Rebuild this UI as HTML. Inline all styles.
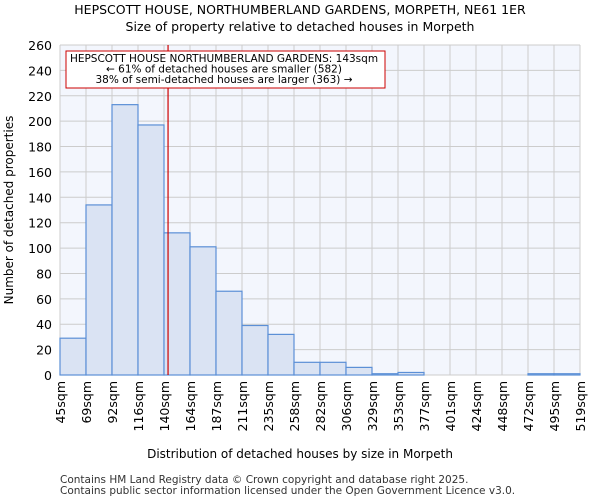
<!DOCTYPE html>
<html><head><meta charset="utf-8"><style>
body{margin:0;background:#fff;font-family:"DejaVu Sans","Liberation Sans",sans-serif;}
</style></head><body>
<svg width="600" height="500" xmlns="http://www.w3.org/2000/svg" font-family="DejaVu Sans, Liberation Sans, sans-serif">
<text x="300" y="14" text-anchor="middle" font-size="12.5">HEPSCOTT HOUSE, NORTHUMBERLAND GARDENS, MORPETH, NE61 1ER</text>
<text x="300" y="31" text-anchor="middle" font-size="12.5">Size of property relative to detached houses in Morpeth</text>
<rect x="60" y="45" width="520" height="330" fill="#f3f6fd"/>
<g id="grid"></g><g id="bars"></g><g id="axes"></g>
<text x="300" y="458" text-anchor="middle" font-size="12">Distribution of detached houses by size in Morpeth</text>
<text transform="translate(13,210) rotate(-90)" text-anchor="middle" font-size="12">Number of detached properties</text>
<text x="60" y="483" font-size="10.5" fill="#333">Contains HM Land Registry data © Crown copyright and database right 2025.</text>
<text x="60" y="494" font-size="10.5" fill="#333">Contains public sector information licensed under the Open Government Licence v3.0.</text>
</svg>
<script>
const categories=["45sqm","69sqm","92sqm","116sqm","140sqm","164sqm","187sqm","211sqm","235sqm","258sqm","282sqm","306sqm","329sqm","353sqm","377sqm","401sqm","424sqm","448sqm","472sqm","495sqm","519sqm"];
const counts=[29,134,213,197,112,101,66,39,32,10,10,6,1,2,0,0,0,0,1,1];
const yTicks=[0,20,40,60,80,100,120,140,160,180,200,220,240,260];
const propertySize=143;
const binEdges=[45,69,92,116,140,164,187,211,235,258,282,306,329,353,377,401,424,448,472,495,519];
const NS="http://www.w3.org/2000/svg";
const L=60,R=580,T=45,B=375,ymax=260;
const bw=(R-L)/counts.length;
const X=i=>L+i*bw;
const Y=v=>B-(v/ymax)*(B-T);
function mk(tag,a,p){const e=document.createElementNS(NS,tag);for(const k in a)e.setAttribute(k,a[k]);p.appendChild(e);return e;}
const grid=document.getElementById('grid'),bars=document.getElementById('bars'),axes=document.getElementById('axes');
yTicks.forEach(t=>{
 const l=mk('line',{x1:L,x2:R,y1:Y(t),y2:Y(t),stroke:'#cccccc','stroke-width':1},grid);
 
 
 const tx=mk('text',{x:L-8,y:Y(t)+5,'text-anchor':'end','font-size':12.5},axes);
 tx.textContent=t;
 
 
});
categories.forEach((c,i)=>{
 const l=mk('line',{x1:X(i),x2:X(i),y1:T,y2:B,stroke:'#cccccc','stroke-width':1},grid);
 
 
 const tx=mk('text',{transform:`translate(${X(i)+5},381) rotate(-90)`,'text-anchor':'end','font-size':12.5},axes);
 tx.textContent=c;
 
 
});
counts.forEach((v,i)=>{
 const r=mk('rect',{x:X(i),y:Y(v),width:bw,height:B-Y(v),fill:'#dae3f3',stroke:'#5b8fd6','stroke-width':1.2},bars);
 
 
});
let bi=0;for(let i=0;i<binEdges.length-1;i++){if(propertySize>=binEdges[i]&&propertySize<binEdges[i+1])bi=i;}
const px=X(bi)+bw*(propertySize-binEdges[bi])/(binEdges[bi+1]-binEdges[bi])+0.8;
const ml=mk('line',{x1:px,x2:px,y1:T,y2:B,stroke:'#cc0000','stroke-width':1.2},axes);


const box=mk('rect',{x:66,y:51,width:319,height:37,fill:'#fff',stroke:'#cc0000','stroke-width':1},axes);


["HEPSCOTT HOUSE NORTHUMBERLAND GARDENS: 143sqm","← 61% of detached houses are smaller (582)","38% of semi-detached houses are larger (363) →"].forEach((s,i)=>{
 const t=mk('text',{x:224,y:62+i*10.5,'text-anchor':'middle','font-size':10.5},axes);
 t.textContent=s;
 
 
});
</script>
</body></html>
